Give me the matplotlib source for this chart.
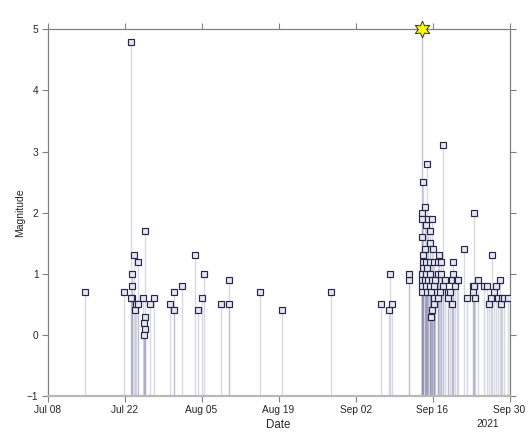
import matplotlib
matplotlib.use("Agg")
import matplotlib.pyplot as plt
import matplotlib.dates as mdates
import pandas as pd
import numpy as np

plt.rcParams['font.family'] = ['Liberation Sans', 'DejaVu Sans']

# --- data -------------------------------------------------------------
event_times = [
    "2021-07-14 20:00", "2021-07-21 23:00",
    "2021-07-23 04:00", "2021-07-23 07:00", "2021-07-23 08:00", "2021-07-23 10:00",
    "2021-07-23 05:00", "2021-07-23 19:00", "2021-07-23 22:00", "2021-07-24 01:00",
    "2021-07-24 10:00", "2021-07-24 12:00", "2021-07-25 09:00", "2021-07-25 19:00",
    "2021-07-25 18:00", "2021-07-25 13:00", "2021-07-25 16:00", "2021-07-25 12:00",
    "2021-07-26 15:00", "2021-07-27 09:00", "2021-07-30 06:00", "2021-07-30 23:00",
    "2021-07-31 01:00", "2021-08-01 10:00", "2021-08-03 18:00", "2021-08-04 10:00",
    "2021-08-05 01:00", "2021-08-05 10:00", "2021-08-08 13:00", "2021-08-10 00:00",
    "2021-08-10 01:00", "2021-08-15 15:00", "2021-08-19 14:00", "2021-08-28 13:00",
    "2021-09-06 14:00", "2021-09-08 02:00", "2021-09-08 06:00", "2021-09-08 17:00",
    "2021-09-11 17:00", "2021-09-11 19:00",
    # Sep 14
    "2021-09-14 04:00", "2021-09-14 04:10", "2021-09-14 04:20", "2021-09-14 04:30",
    "2021-09-14 04:40", "2021-09-14 04:50", "2021-09-14 03:00", "2021-09-14 03:20",
    "2021-09-14 03:40", "2021-09-14 04:15",
    "2021-09-14 05:00",
    "2021-09-14 15:00", "2021-09-14 15:20", "2021-09-14 15:40",
    "2021-09-14 18:00", "2021-09-14 18:20", "2021-09-14 18:40", "2021-09-14 19:00",
    "2021-09-14 23:00", "2021-09-14 23:30",
    # Sep 15
    "2021-09-15 00:00", "2021-09-15 03:00", "2021-09-15 06:00",
    "2021-09-15 13:00", "2021-09-15 13:20", "2021-09-15 13:40", "2021-09-15 14:00",
    "2021-09-15 12:40",
    "2021-09-15 16:00", "2021-09-15 16:30", "2021-09-15 20:00", "2021-09-15 20:30",
    "2021-09-15 23:00",
    # Sep 16
    "2021-09-16 04:00", "2021-09-16 04:30", "2021-09-16 05:00",
    "2021-09-16 08:00", "2021-09-16 08:30", "2021-09-16 11:00",
    "2021-09-16 23:00", "2021-09-16 23:30", "2021-09-16 22:30",
    # Sep 17 onwards
    "2021-09-17 04:00", "2021-09-17 09:00", "2021-09-17 13:00", "2021-09-17 13:30",
    "2021-09-17 20:00", "2021-09-17 23:00", "2021-09-18 06:00", "2021-09-18 21:00",
    "2021-09-18 21:30", "2021-09-19 04:00", "2021-09-19 12:00", "2021-09-19 12:30",
    "2021-09-19 19:00", "2021-09-19 19:30", "2021-09-20 02:00", "2021-09-20 10:00",
    "2021-09-20 17:00", "2021-09-21 18:00", "2021-09-22 05:00", "2021-09-23 07:00",
    "2021-09-23 10:00", "2021-09-23 13:00", "2021-09-23 14:00", "2021-09-23 18:00",
    "2021-09-24 05:00", "2021-09-25 09:00", "2021-09-25 23:00", "2021-09-26 08:00",
    "2021-09-26 14:00", "2021-09-26 20:00", "2021-09-27 05:00", "2021-09-27 12:00",
    "2021-09-27 20:00", "2021-09-28 05:00", "2021-09-28 11:00", "2021-09-28 14:00",
    "2021-09-29 01:00", "2021-09-29 16:00",
]
magnitudes = [
    0.7, 0.7,
    4.8, 1.0, 0.8, 0.6,
    0.6, 1.3, 0.4, 0.5,
    1.2, 0.5, 0.6, 1.7,
    0.3, 0.2, 0.1, 0.0,
    0.5, 0.6, 0.5, 0.7,
    0.4, 0.8, 1.3, 0.4,
    0.6, 1.0, 0.5, 0.5,
    0.9, 0.7, 0.4, 0.7,
    0.5, 0.4, 1.0, 0.5,
    0.9, 1.0,
    # Sep 14
    2.0, 1.9, 1.6, 1.3,
    1.2, 1.1, 1.0, 0.9,
    0.8, 0.7,
    2.5,
    2.1, 1.4, 0.9,
    1.8, 1.2, 1.0, 0.8,
    1.1, 0.7,
    # Sep 15
    2.8, 0.9, 1.9,
    1.7, 1.5, 1.2, 1.0,
    0.8,
    0.3, 0.7, 0.9, 0.4,
    1.9,
    # Sep 16
    1.4, 1.2, 0.5,
    0.8, 0.6, 0.9,
    1.2, 1.0, 0.6,
    # Sep 17 onwards
    1.3, 0.7, 1.2, 1.0,
    3.1, 0.8, 0.9, 0.7,
    0.6, 0.7, 0.9, 0.5,
    1.2, 1.0, 0.8, 0.9,
    0.9, 1.4, 0.6, 0.8,
    0.7, 2.0, 0.8, 0.6,
    0.9, 0.8, 0.8, 0.5,
    0.6, 1.3, 0.7, 0.8,
    0.6, 0.9, 0.5, 0.6,
    0.6, 0.6,
]
mainshock_time = ["2021-09-14 02:00"]
mainshock_mag = [5.0]

x_start, x_end = "2021-07-08", "2021-09-30"
tick_dates = ["2021-07-08", "2021-07-22", "2021-08-05", "2021-08-19",
              "2021-09-02", "2021-09-16", "2021-09-30"]
y_ticks = [-1, 0, 1, 2, 3, 4, 5]
y_min, y_max = -1, 5
year_label = "2021"

# --- plot -------------------------------------------------------------
t = pd.to_datetime(event_times)
tm = pd.to_datetime(mainshock_time)

fig = plt.figure(figsize=(5.31, 4.45), dpi=100)
ax = fig.add_axes([47.5/531, 1-396/445, (509.5-47.5)/531, (396-29.3)/445])

stem_col = '#8c8cb0'
ax.vlines(t, y_min, magnitudes, color=stem_col, alpha=0.33, lw=1.0, zorder=2)
ax.vlines(tm, y_min, mainshock_mag, color=stem_col, alpha=0.5, lw=1.0, zorder=2)
ax.plot(t, magnitudes, ls='none', marker='s', ms=4.2, mfc='#e6e6f0',
        mec='#262648', mew=0.85, zorder=3)
ax.plot(tm, mainshock_mag, ls='none', marker=(6, 1, 0), ms=12, mfc='#ffff00',
        mec='#333333', mew=0.7, zorder=5, clip_on=False)

ax.set_xlim(pd.Timestamp(x_start), pd.Timestamp(x_end))
ax.set_ylim(y_min, y_max)
ax.set_xticks(pd.to_datetime(tick_dates))
ax.xaxis.set_major_formatter(mdates.DateFormatter('%b %d'))
ax.set_yticks(y_ticks)

for s in ['top', 'right', 'left']:
    ax.spines[s].set_color('#808080')
    ax.spines[s].set_linewidth(0.9)
ax.spines['bottom'].set_color('#b8b8b8')
ax.spines['bottom'].set_linewidth(1.6)

ax.tick_params(direction='out', length=4, width=0.8, color='#808080',
               labelsize=7.3, labelcolor='#262626', top=True, right=True,
               labeltop=False, labelright=False, pad=2.5)

ax.set_xlabel('Date', fontsize=8.3, color='#262626', labelpad=3)
ax.set_ylabel('Magnitude', fontsize=7.5, color='#262626', labelpad=1.5)
ax.text(0.977, -0.062, year_label, transform=ax.transAxes, ha='right', va='top',
        fontsize=7.3, color='#262626')

fig.savefig('out.png', dpi=100)
